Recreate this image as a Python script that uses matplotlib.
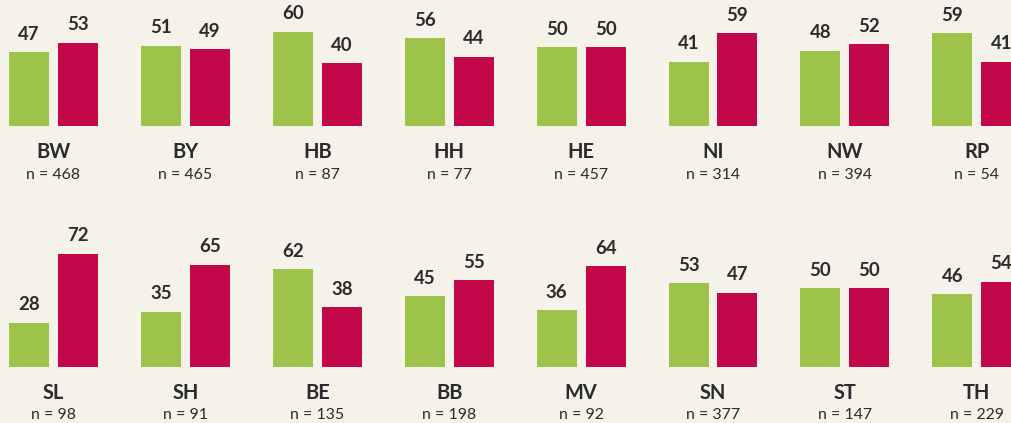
import numpy as np
import matplotlib.pyplot as plt

plt.rcParams['font.family'] = ['Lato', 'DejaVu Sans']

states = [["BW", "BY", "HB", "HH", "HE", "NI", "NW", "RP"],
          ["SL", "SH", "BE", "BB", "MV", "SN", "ST", "TH"]]
green_vals = [[47, 51, 60, 56, 50, 41, 48, 59],
              [28, 35, 62, 45, 36, 53, 50, 46]]
red_vals = [[53, 49, 40, 44, 50, 59, 52, 41],
            [72, 65, 38, 55, 64, 47, 50, 54]]
n_vals = [[468, 465, 87, 77, 457, 314, 394, 54],
          [98, 91, 135, 198, 92, 377, 147, 229]]

GREEN = "#9dc34a"
RED = "#c2084b"
BG = "#f5f2ea"
TXT = "#2b2b2b"

W, H = 1012, 423
fig = plt.figure(figsize=(W / 100, H / 100), dpi=100, facecolor=BG)

pitch = 131.9
baselines = [126, 366.7]
scale = 1.57
ax_h = 126

for r in range(2):
    base = baselines[r]
    ax = fig.add_axes([0, (H - base) / H, 1, ax_h / H])
    ax.set_facecolor("none")
    ax.set_xlim(-53.5 / pitch, (W - 53.5) / pitch)
    ax.set_ylim(0, ax_h / scale)
    ax.axis("off")
    x = np.arange(len(states[r]))
    bw = 40 / pitch
    off = 24.5 / pitch
    gb = ax.bar(x - off, green_vals[r], width=bw, color=GREEN, clip_on=False)
    rb = ax.bar(x + off, red_vals[r], width=bw, color=RED, clip_on=False)
    for bars, vals in ((gb, green_vals[r]), (rb, red_vals[r])):
        for b, v in zip(bars, vals):
            ax.annotate(str(v), (b.get_x() + b.get_width() / 2, v),
                        xytext=(0, 9), textcoords="offset points",
                        ha="center", va="baseline", fontsize=13.4,
                        fontweight="bold", color=TXT, annotation_clip=False)
    for i, (s, n) in enumerate(zip(states[r], n_vals[r])):
        ax.annotate(s, (i, 0), xytext=(0, -23), textcoords="offset points",
                    ha="center", va="baseline", fontsize=14.4,
                    fontweight="bold", color=TXT, annotation_clip=False)
        ax.annotate(f"n = {n}", (i, 0), xytext=(0, -38), textcoords="offset points",
                    ha="center", va="baseline", fontsize=11.4,
                    color=TXT, annotation_clip=False)

fig.savefig("out.png", dpi=100, facecolor=BG)
